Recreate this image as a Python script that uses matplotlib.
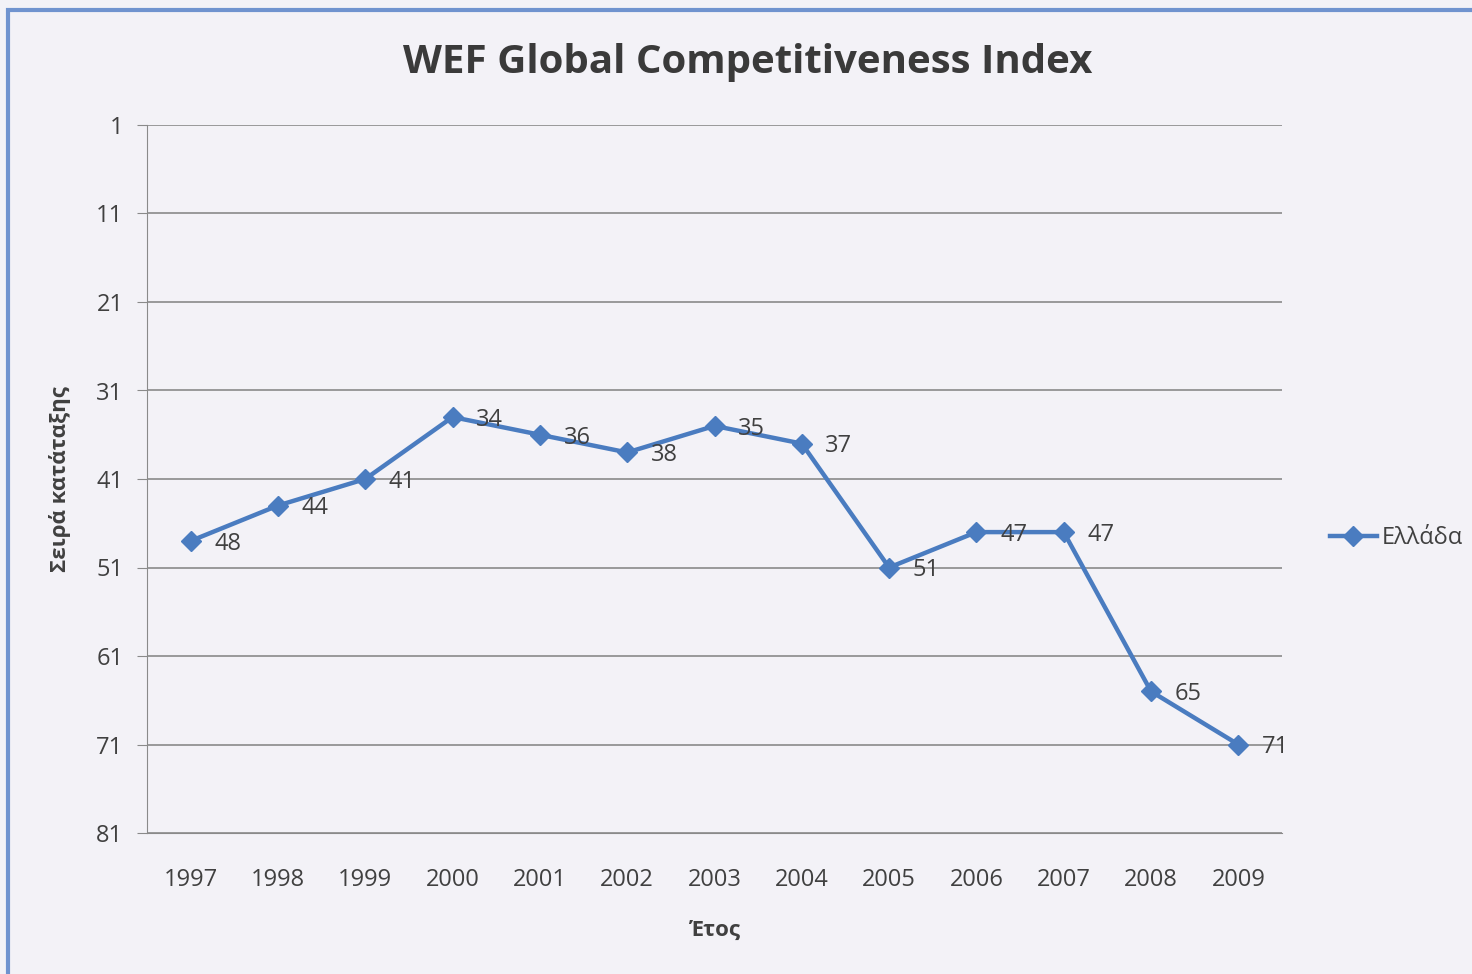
import matplotlib
matplotlib.use("Agg")
from matplotlib import pyplot as plt
from matplotlib.patches import Rectangle

# data
years = ["1997", "1998", "1999", "2000", "2001", "2002", "2003",
         "2004", "2005", "2006", "2007", "2008", "2009"]
rank = [48, 44, 41, 34, 36, 38, 35, 37, 51, 47, 47, 65, 71]
yticks = [1, 11, 21, 31, 41, 51, 61, 71, 81]

plt.rcParams['font.family'] = ['Open Sans', 'DejaVu Sans']
text_col = '#404040'
line_col = '#4a7cc0'
bg = '#f3f2f7'

fig = plt.figure(figsize=(14.72, 9.74), dpi=100, facecolor=bg)
ax = fig.add_axes([147/1472, 1 - 833/974, (1282 - 147)/1472, (833 - 125)/974])
ax.set_facecolor(bg)

# outer blue frame (scanned chart border)
fig.patches.append(Rectangle((8/1472, -0.05), 1.1, 1 - 10/974 + 0.05,
                             transform=fig.transFigure, fill=False,
                             edgecolor='#7093cf', lw=3))

x = list(range(len(years)))
ax.plot(x, rank, color=line_col, lw=3.2, marker='D', markersize=10,
        label='Ελλάδα', zorder=3)
for xi, v in zip(x, rank):
    ax.annotate(str(v), (xi, v), xytext=(17, -2), textcoords='offset points',
                va='center', ha='left', fontsize=17, color=text_col)

ax.set_xlim(-0.5, len(years) - 0.5)
ax.set_ylim(81, 1)
ax.set_yticks(yticks)
ax.set_xticks(x)
ax.set_xticklabels(years)
ax.grid(axis='y', color='#8a8a8a', lw=1.2)
ax.set_axisbelow(True)
for s in ['top', 'right']:
    ax.spines[s].set_visible(False)
ax.spines['left'].set_color('#8a8a8a')
ax.spines['bottom'].set_color('#8a8a8a')
ax.tick_params(axis='y', length=7, color='#8a8a8a', labelsize=17,
               labelcolor=text_col, pad=10)
ax.tick_params(axis='x', length=0, labelsize=17, labelcolor=text_col, pad=25)

# title is centred on the whole chart, not on the plot area
fig.text(748/1472, 1 - 63/974, 'WEF Global Competitiveness Index',
         fontsize=29, fontweight='bold', color='#3a3a3a',
         ha='center', va='center')
ax.set_ylabel('Σειρά κατάταξης', fontsize=16, fontweight='bold',
              color=text_col, labelpad=18)
ax.set_xlabel('Έτος', fontsize=16, fontweight='bold', color=text_col,
              labelpad=20)

fig.legend(loc='center left', bbox_to_anchor=(1318/1472, 1 - 538/974),
           frameon=False, fontsize=17, labelcolor=text_col,
           handlelength=2.0, handletextpad=0.2, borderpad=0)

fig.savefig('out.png', dpi=100, facecolor=bg)
